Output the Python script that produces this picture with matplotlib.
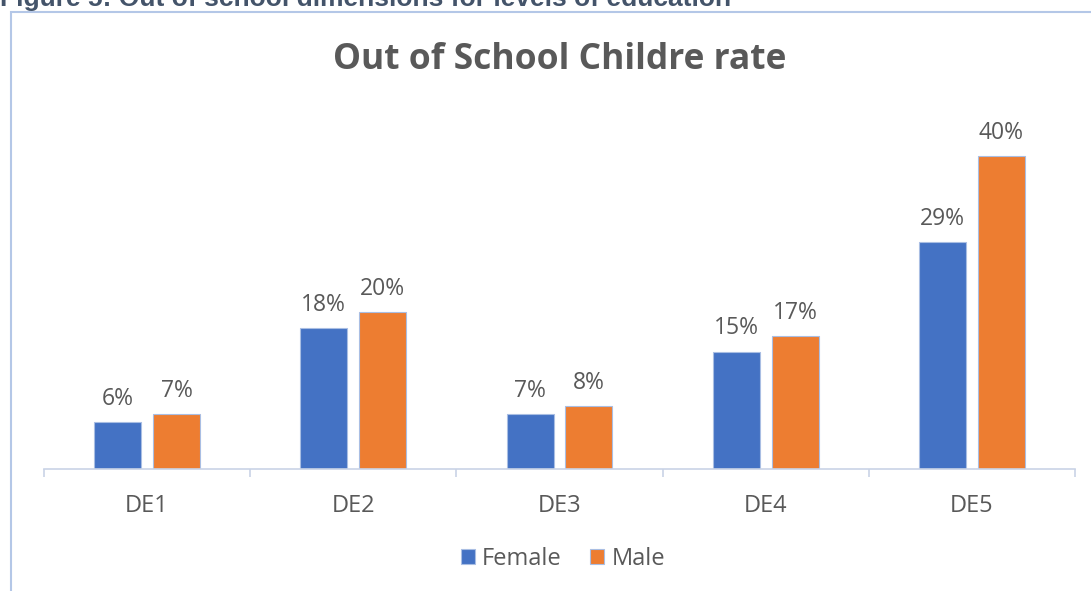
import numpy as np
import matplotlib.pyplot as plt
from matplotlib.patches import Rectangle

categories = ["DE1", "DE2", "DE3", "DE4", "DE5"]
female = [6, 18, 7, 15, 29]
male = [7, 20, 8, 17, 40]

blue = "#4472C4"
orange = "#ED7D31"
grey_text = "#595959"

fig = plt.figure(figsize=(10.91, 5.91), dpi=100)
fig.patch.set_facecolor("white")

# caption sits above the chart frame, partly cut off at the top edge
fig.text(0.0, 1 - 6 / 591, "Figure 5: Out of school dimensions for levels of education",
         family="Liberation Sans", weight="bold", fontsize=19, color="#44546A",
         ha="left", va="baseline")

# chart frame
fig.patches.append(Rectangle((11 / 1091, -0.1), 1.2, 1 - 12 / 591 + 0.1,
                             transform=fig.transFigure, fill=False,
                             edgecolor="#B4C7E7", linewidth=1.5))

ax = fig.add_axes([44 / 1091, 1 - 469 / 591, (1075 - 44) / 1091, (469 - 120) / 591])
x = np.arange(len(categories))
off = 0.143
w = 0.228
b1 = ax.bar(x - off, female, w, color=blue, edgecolor="#A9BEE3", linewidth=0.8, label="Female")
b2 = ax.bar(x + off, male, w, color=orange, edgecolor="#A9BEE3", linewidth=0.8, label="Male")

for bars, vals in [(b1, female), (b2, male)]:
    for r, v in zip(bars, vals):
        ax.annotate(f"{v}%", (r.get_x() + r.get_width() / 2, v), xytext=(0, 8),
                    textcoords="offset points", ha="center", va="bottom",
                    fontsize=16.5, color=grey_text, family="Open Sans")

ax.set_xlim(-0.5, 4.5)
ax.set_ylim(0, (469 - 120) / 7.83)
for s in ["top", "right", "left"]:
    ax.spines[s].set_visible(False)
ax.spines["bottom"].set_color("#C9D3E6")
ax.spines["bottom"].set_linewidth(1.2)
ax.set_yticks([])
ax.set_xticks(np.arange(-0.5, 5, 1))
ax.set_xticklabels([])
ax.set_xticks(x, minor=True)
ax.set_xticklabels(categories, minor=True, fontsize=17, color=grey_text, family="Open Sans")
ax.tick_params(axis="x", which="major", length=6, color="#C9D3E6", width=1.2)
ax.tick_params(axis="x", which="minor", length=0, pad=18)

fig.text(560 / 1091, 1 - 60 / 591, "Out of School Childre rate", ha="center", va="center",
         fontsize=25.5, weight="bold", color=grey_text, family="Open Sans")

ax.legend(loc="center", bbox_to_anchor=(563 / 1091, 1 - 559 / 591), bbox_transform=fig.transFigure,
          ncol=2, frameon=False, handlelength=0.6, handleheight=0.6, handletextpad=0.3,
          columnspacing=1.2, prop={"family": "Open Sans", "size": 17}, labelcolor=grey_text)

plt.savefig("out.png", dpi=100)
